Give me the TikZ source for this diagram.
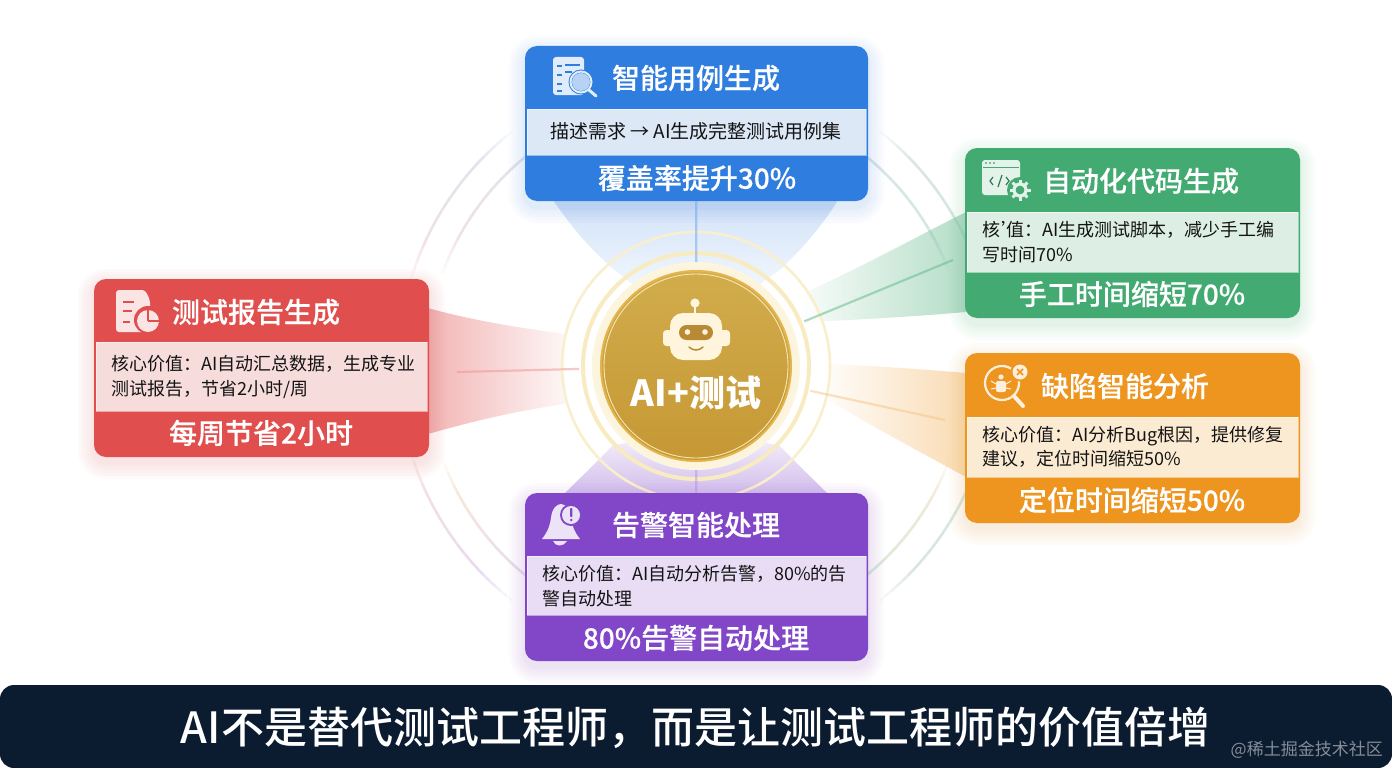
\documentclass[tikz,border=0pt]{standalone}
\usepackage{fontspec}
\setmainfont{Noto Sans CJK SC}
\newfontfamily\medfont{Noto Sans CJK SC Medium}
\newfontfamily\headfont[FakeBold=0.3]{Noto Sans CJK SC Medium}
\newcommand{\qcm}{\char"FF0C\relax}
\newcommand{\qcn}{\char"FF1A\relax}
\usetikzlibrary{calc}
\definecolor{cblue}{HTML}{2F7DDF}
\definecolor{bblue}{HTML}{DCE8F6}
\definecolor{cgreen}{HTML}{43AB72}
\definecolor{bgreen}{HTML}{DDEFE4}
\definecolor{corange}{HTML}{EE951F}
\definecolor{borange}{HTML}{FCEBD3}
\definecolor{cred}{HTML}{E04F4D}
\definecolor{bred}{HTML}{F6DCDB}
\definecolor{cpurple}{HTML}{8247C8}
\definecolor{bpurple}{HTML}{E8DDF5}
\definecolor{barbg}{HTML}{0B1B30}
\definecolor{goldA}{HTML}{D2AC4C}
\definecolor{goldB}{HTML}{C59834}
\definecolor{goldrim}{HTML}{E3B54C}
\definecolor{goldpale}{HTML}{F8E6B0}
\definecolor{robotbg}{HTML}{FFF4DC}
\definecolor{robotdk}{HTML}{B98A35}
\definecolor{rred}{HTML}{EFA9A8}
\definecolor{rblue}{HTML}{9DB7D8}
\definecolor{rgrey}{HTML}{A8B4C0}
\definecolor{rgreen}{HTML}{7FC6A0}
\definecolor{rorange}{HTML}{F3C78A}
\definecolor{rpurple}{HTML}{B79ADF}
\tikzset{
  x=1pt,y=-1pt,
  cardbox/.style={rounded corners=12pt,inner sep=0pt,outer sep=0pt},
  titletext/.style={font=\fontsize{28}{30}\headfont,text=white,inner sep=0pt,anchor=center},
  metrictext/.style={font=\fontsize{28}{30}\headfont,text=white,inner sep=0pt,anchor=center},
  bodytext/.style={font=\fontsize{18}{24.5}\selectfont,text=black!92,inner sep=0pt,anchor=west,align=left},
  spoke/.style={line width=2.2pt,opacity=.5},
}
% name x1 y1 x2 y2 bandtop bandbottom colour bandcolour
\newcommand{\cardshape}[9]{%
  \foreach \s in {16,13,10,7,4,2}{
    \pgfmathsetmacro{\rc}{\s+12}
    \fill[#8,opacity=.022,rounded corners=\rc pt] ({#2-\s},{#3-\s+6}) rectangle ({#4+\s},{#5+\s+6});
  }
  \node[cardbox,fill=#8,minimum width={(#4-#2)*1pt},minimum height={(#5-#3)*1pt},anchor=north west] (#1) at (#2,#3) {};
  \fill[#9] ({#2+2},#6) rectangle ({#4-2},#7);
  \draw[white,opacity=.5,line width=.8pt] ({#2+2},#6) rectangle ({#4-2},#7);
}
% arc piece with colour blend and faded ends
\newcommand{\ringarc}[5]{%
  \pgfmathsetmacro{\astep}{(#3-#2)/24}
  \foreach \i in {0,...,23}{
    \pgfmathsetmacro{\aa}{#2+\i*\astep}
    \pgfmathsetmacro{\ab}{#2+(\i+1)*\astep}
    \pgfmathtruncatemacro{\mixp}{100-\i*100/23}
    \pgfmathsetmacro{\fadep}{min(1,min(\i+1,24-\i)*.16)*.36}
    \draw[line width=2.6pt,color={#4!\mixp!#5},opacity=\fadep]
      ({696+#1*cos(\aa)},{366+#1*sin(\aa)}) -- ({696+#1*cos(\ab)},{366+#1*sin(\ab)});
  }
}
\begin{document}
\begin{tikzpicture}
\useasboundingbox (0,0) rectangle (1392,768);
\fill[white] (0,0) rectangle (1392,768);

% beams of the side cards
\shade[left color=cgreen!3!white,right color=cgreen!40!white]
  (806,292) .. controls (860,268) and (920,235) .. (966,212) -- (966,312) .. controls (920,316) and (860,320) .. (800,322) -- cycle;
\shade[left color=corange!3!white,right color=corange!34!white]
  (828,364) .. controls (880,366) and (930,370) .. (966,373) -- (966,477) .. controls (920,452) and (870,425) .. (828,400) -- cycle;
\shade[left color=cred!42!white,right color=cred!5!white]
  (428,308) .. controls (470,320) and (520,328) .. (565,334) -- (565,404) .. controls (520,410) and (470,422) .. (428,434) -- cycle;

% large rings
\ringarc{298}{196}{232}{rred}{rblue}
\ringarc{270}{200}{238}{rred}{rblue}
\ringarc{298}{308}{344}{rgrey}{rgreen}
\ringarc{270}{302}{340}{rblue}{rgreen}
\ringarc{298}{16}{52}{rgreen}{rgrey}
\ringarc{270}{20}{58}{rorange}{rgreen}
\ringarc{298}{128}{164}{rpurple}{rred}
\ringarc{270}{122}{160}{rpurple}{rorange}

% white gap around the hub
\fill[white,opacity=.75] (696,366) circle[radius=134];

% beams of the vertical cards
\shade[top color=cblue!22!white,bottom color=cblue!6!white]
  (553,200) .. controls (575,232) and (592,250) .. (612,268) -- (640,290) -- (752,290) -- (782,268) .. controls (800,250) and (818,232) .. (838,200) -- cycle;
\shade[top color=cpurple!10!white,bottom color=cpurple!36!white]
  (640,440) -- (752,440) -- (780,446) .. controls (795,462) and (812,478) .. (828,494) -- (564,494) .. controls (580,478) and (597,462) .. (612,446) -- cycle;

% gold rings
\draw[goldpale!65!white,line width=2.6pt] (696,366) circle[radius=134];
\draw[goldpale!80!white,line width=4pt] (696,366) circle[radius=113];
\node[circle,minimum size=234pt,inner sep=0pt,outer sep=0pt] (ringgap) at (696,366) {};
\node[circle,minimum size=208pt,inner sep=0pt,outer sep=0pt,inner color=goldpale,outer color=goldpale!40!white] (halo) at (696,366) {};

% hub
\node[circle,minimum size=190pt,inner sep=0pt,outer sep=0pt,draw=goldrim,line width=2pt,top color=goldA,bottom color=goldB] (hub) at (696,366) {};
\draw[goldpale,line width=.9pt] (696,366) circle[radius=92];

% connector end points
\coordinate (greenport) at (953,260);
\coordinate (orangeport) at (945,420);
\coordinate (redport) at (457,372);

% cards
\cardshape{blue}{525}{46}{868}{201}{109}{155}{cblue}{bblue}
\cardshape{green}{965}{148}{1300}{318}{212}{272}{cgreen}{bgreen}
\cardshape{orange}{965}{353}{1300}{523}{417}{477}{corange}{borange}
\cardshape{red}{94}{279}{429}{457}{342}{411}{cred}{bred}
\cardshape{purple}{525}{493}{868}{661}{556}{615}{cpurple}{bpurple}

% connectors
\draw[spoke,color=cblue!70!white] (halo) -- (blue);
\draw[spoke,color=cpurple!60!white] (halo) -- (purple);
\draw[spoke,color=cgreen!85!white] (ringgap) -- (greenport);
\draw[spoke,color=corange!55!white] (ringgap) -- (orangeport);
\draw[spoke,color=cred!60!white] (ringgap) -- (redport);

% card text
\node[titletext] (t1) at (696,78) {智能用例生成};
\node[inner sep=0pt,font=\fontsize{19}{20}\selectfont,text=black!92] (b1) at (696,131) {描述需求 → AI生成完整测试用例集};
\node[metrictext] (m1) at (697,178) {覆盖率提升30\%};

\node[titletext] (t2) at (1141,181) {自动化代码生成};
\node[bodytext] (b2) at (982,242) {核\kern1pt'\kern-13pt值\qcn AI生成测试脚本\qcm 减少手工编\\写时间70\%};
\node[metrictext] (m2) at (1132,294) {手工时间缩短70\%};

\node[titletext] (t3) at (1125,386) {缺陷智能分析};
\node[bodytext] (b3) at (982,447) {核心价值\qcn AI分析Bug根因\qcm 提供修复\\建议\qcm 定位时间缩短50\%};
\node[metrictext] (m3) at (1132,500) {定位时间缩短50\%};

\node[titletext] (t4) at (256,312) {测试报告生成};
\node[bodytext] (b4) at (111,377) {核心价值\qcn AI自动汇总数据\qcm 生成专业\\测试报告\qcm 节省2小时/周};
\node[metrictext] (m4) at (261,433) {每周节省2小时};

\node[titletext] (t5) at (696,525) {告警智能处理};
\node[bodytext] (b5) at (542,586) {核心价值\qcn AI自动分析告警\qcm 80\%的告\\警自动处理};
\node[metrictext] (m5) at (696,638) {80\%告警自动处理};

% hub text and robot
\node[inner sep=0pt,font=\fontsize{36}{38}\selectfont\bfseries,text=white] (hubtext) at (696,393) {AI+测试};
\draw[robotbg,line width=1.6pt] (695,303) -- (695,314);
\fill[robotbg] (695,303) circle[radius=4.6];
\fill[robotbg,rounded corners=3.5pt] (663,330) rectangle (674,346);
\fill[robotbg,rounded corners=3.5pt] (718,330) rectangle (730,346);
\fill[robotbg,rounded corners=13pt] (670,313) rectangle (722,360);
\fill[robotdk,rounded corners=7.5pt] (679,325) rectangle (713,340);
\fill[robotbg] (687.5,332) circle[radius=2.8];
\fill[robotbg] (705,332) circle[radius=2.8];
\draw[robotdk,line width=1.5pt,line cap=round] (689,347) .. controls (693,351) and (699,351) .. (703,347);

% blue icon
\colorlet{iconb}{white!85!cblue}
\fill[iconb,rounded corners=3pt] (553,57) rectangle (584,95);
\foreach \y in {66,75,84,91}{
  \draw[cblue,line width=1.2pt] (557,\y) -- (562,\y);
}
\draw[cblue,line width=1.2pt] (565,65) -- (580,65);
\draw[cblue,line width=1.2pt] (565,72) -- (572,72);
\fill[cblue] (581,82) circle[radius=12.5];
\fill[cblue!35!white] (581,82) circle[radius=9];
\draw[iconb,line width=2pt] (581,82) circle[radius=10.5];
\draw[iconb,line width=3pt,line cap=round] (589,90) -- (596,96);

% green icon
\colorlet{icong}{white!85!cgreen}
\fill[icong,rounded corners=3pt] (982,160) rectangle (1020,195);
\fill[cgreen] (983,166.5) rectangle (1019,168);
\foreach \x in {986,990,994}{\fill[cgreen!70!black] (\x,163) circle[radius=.9];}
\draw[cgreen!70!black,line width=1.2pt] (993,177) -- (990,181) -- (993,185);
\draw[cgreen!70!black,line width=1.2pt] (1002,175) -- (998,187);
\draw[cgreen!70!black,line width=1.2pt] (1006,177) -- (1009,181) -- (1006,185);
\fill[cgreen] (1020,190) circle[radius=13];
\foreach \a in {0,45,...,315}{
  \draw[icong,line width=3pt] ({1020+6*cos(\a)},{190+6*sin(\a)}) -- ({1020+10.5*cos(\a)},{190+10.5*sin(\a)});
}
\draw[icong,line width=3.2pt] (1020,190) circle[radius=6];

% red icon
\colorlet{iconr}{white!85!cred}
\fill[iconr,rounded corners=3pt] (116,290) -- (145,290) -- (150,300) -- (150,332) -- (116,332) -- cycle;
\foreach \y/\l in {302/134,311/132,322/130}{
  \draw[cred,line width=1.7pt] (123,\y) -- (\l,\y);
}
\fill[cred] (148,320) circle[radius=14];
\fill[iconr] (148,321) circle[radius=11];
\draw[cred,line width=1.2pt] (148,321) -- (148,309);
\draw[cred,line width=1.2pt] (148,321) -- (160,321);

% orange icon
\colorlet{icono}{white!85!corange}
\draw[icono,line width=2.2pt] (1002,383) circle[radius=17];
\draw[icono,line width=4pt,line cap=round] (1014,396) -- (1023,406);
\fill[icono] (1001,377) circle[radius=2.6];
\fill[icono,rounded corners=2pt] (996,381) rectangle (1006,392);
\draw[icono,line width=1pt] (996,384) -- (991,381) (996,388) -- (991,389) (1006,384) -- (1011,381) (1006,388) -- (1011,389);
\fill[corange] (1020,372) circle[radius=9.5];
\fill[icono] (1020,372) circle[radius=7.5];
\draw[corange,line width=1.6pt] (1017,369) -- (1023,375) (1023,369) -- (1017,375);

% purple icon
\colorlet{iconp}{white!85!cpurple}
\fill[iconp] (542,539) .. controls (549,530) and (550,524) .. (551,518) .. controls (552,508) and (557,504) .. (561,504) .. controls (566,504) and (570,510) .. (571,518) .. controls (572,526) and (575,533) .. (580,539) -- cycle;
\fill[iconp] (553,541) .. controls (555,547) and (564,547) .. (567,541) -- cycle;
\fill[cpurple] (571,515) circle[radius=11];
\fill[iconp] (571,515) circle[radius=9];
\fill[cpurple,rounded corners=.8pt] (570,508) rectangle (572.4,517);
\fill[cpurple] (571.2,520) circle[radius=1.4];

% bottom banner
\fill[barbg,rounded corners=14pt] (0,685) rectangle (1392,768);
\node[inner sep=0pt,font=\fontsize{43}{45}\medfont,text=white] (banner) at (695.5,728) {AI不是替代测试工程师\qcm 而是让测试工程师的价值倍增};
\node[inner sep=0pt,anchor=east,font=\fontsize{17}{19}\selectfont,text=white!50!barbg] (mark) at (1383,750) {@稀土掘金技术社区};
\end{tikzpicture}
\end{document}
